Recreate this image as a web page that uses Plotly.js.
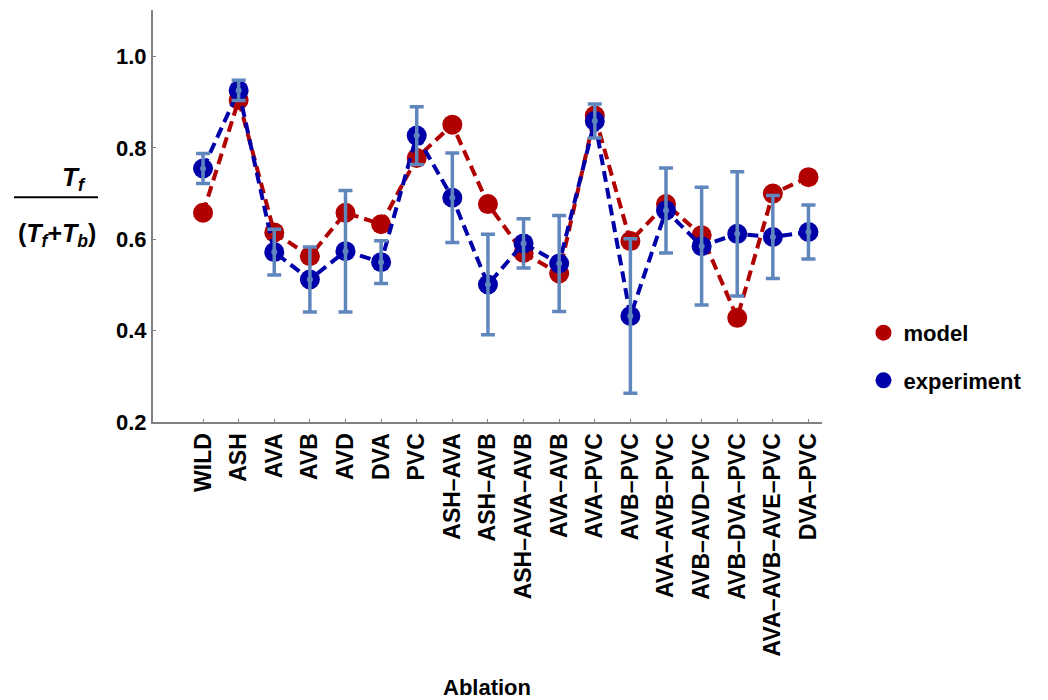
<!DOCTYPE html>
<html><head><meta charset="utf-8">
<script src="https://cdn.plot.ly/plotly-3.0.1.min.js"></script>
<style>html,body{margin:0;padding:0;background:#fff}#chart{width:1048px;height:700px}</style>
</head><body><div id="chart"></div>
<script>
const categories = ['WILD','ASH','AVA','AVB','AVD','DVA','PVC','ASH–AVA','ASH–AVB','ASH–AVA–AVB','AVA–AVB','AVA–PVC','AVB–PVC','AVA–AVB–PVC','AVB–AVD–PVC','AVB–DVA–PVC','AVA–AVB–AVE–PVC','DVA–PVC'];
const modelValues = [0.658,0.905,0.615,0.563,0.658,0.633,0.778,0.851,0.677,0.570,0.525,0.871,0.596,0.677,0.609,0.428,0.700,0.736];
const experimentValues = [0.755,0.926,0.572,0.512,0.574,0.550,0.827,0.691,0.501,0.591,0.547,0.859,0.432,0.663,0.585,0.612,0.605,0.616];
const experimentErrors = [0.033,0.022,0.050,0.071,0.133,0.047,0.063,0.098,0.110,0.054,0.105,0.037,0.169,0.093,0.129,0.136,0.091,0.059];
const yTicks = [0.2,0.4,0.6,0.8,1.0];
const seriesNames = ['model','experiment'];

const idx = categories.map((c,i)=>i);
const FONT = 'Liberation Sans, Arial, Helvetica, sans-serif';
const RED = '#b00000', BLUE = '#0000a8', ERR = '#5f86bd';

const traces = [
  {x: idx, y: modelValues, name: seriesNames[0], type: 'scatter', mode: 'lines+markers', showlegend: false,
   line: {color: RED, width: 4, dash: '11px,6px'},
   marker: {color: RED, size: 20}},
  {x: idx, y: experimentValues, name: seriesNames[1], type: 'scatter', mode: 'lines+markers', showlegend: false,
   line: {color: BLUE, width: 4, dash: '11px,6px'},
   marker: {color: BLUE, size: 20}},
  {x: idx, y: experimentValues, type: 'scatter', mode: 'markers', showlegend: false,
   marker: {color: ERR, size: 6},
   error_y: {type: 'data', array: experimentErrors, visible: true, color: ERR, thickness: 3.5, width: 7}},
  {x: [null], y: [null], name: seriesNames[0], type: 'scatter', mode: 'markers',
   marker: {color: RED, size: 20}, legendgroup: 'a'},
  {x: [null], y: [null], name: seriesNames[1], type: 'scatter', mode: 'markers',
   marker: {color: BLUE, size: 20}, legendgroup: 'b'}
];

const layout = {
  width: 1048, height: 700,
  margin: {l: 153, r: 226, t: 10, b: 278},
  paper_bgcolor: '#fff', plot_bgcolor: '#fff',
  font: {family: FONT, size: 22, color: '#000', weight: 'bold'},
  xaxis: {range: [-1.405, 17.38], tickvals: idx, ticktext: categories, tickangle: -90,
    showgrid: false, zeroline: false, showline: true, linecolor: '#808080', linewidth: 2,
    ticks: 'inside', ticklen: 3, tickcolor: '#808080', tickwidth: 1,
    tickfont: {family: FONT, size: 23, color: '#000', weight: 'bold'}},
  yaxis: {range: [0.2, 1.102], tickvals: yTicks, tickformat: '.1f',
    showgrid: false, zeroline: false, showline: true, linecolor: '#808080', linewidth: 2,
    ticks: 'inside', ticklen: 3, tickcolor: '#808080', tickwidth: 1,
    tickfont: {family: FONT, size: 22, color: '#000', weight: 'bold'}},
  showlegend: true,
  legend: {x: 1.062, xanchor: 'left', y: 0.158, yanchor: 'middle',
    font: {family: FONT, size: 22, color: '#000', weight: 'bold'},
    traceorder: 'grouped', tracegroupgap: 16, bgcolor: 'rgba(0,0,0,0)'},
  annotations: [
    {xref: 'paper', yref: 'paper', x: (487-153)/669, y: -(688-422)/412.5, text: 'Ablation',
     showarrow: false, xanchor: 'center', yanchor: 'middle',
     font: {family: FONT, size: 22, color: '#000', weight: 'bold'}},
    {xref: 'paper', yref: 'paper', x: -(153-74)/669, y: (422-178)/412.5, text: '<i>T<sub>f</sub></i>',
     showarrow: false, xanchor: 'center', yanchor: 'middle',
     font: {family: FONT, size: 26, color: '#000', weight: 'bold'}},
    {xref: 'paper', yref: 'paper', x: -(153-57)/669, y: (422-235)/412.5,
     text: '(<i>T<sub>f</sub></i>+<i>T<sub>b</sub></i>)',
     showarrow: false, xanchor: 'center', yanchor: 'middle',
     font: {family: FONT, size: 25, color: '#000', weight: 'bold'}}
  ],
  shapes: [
    {type: 'line', xref: 'paper', yref: 'paper', x0: -(153-14)/669, x1: -(153-98)/669,
     y0: (422-197)/412.5, y1: (422-197)/412.5, line: {color: '#000', width: 2}}
  ]
};
Plotly.newPlot('chart', traces, layout, {displayModeBar: false, staticPlot: true});
</script></body></html>
